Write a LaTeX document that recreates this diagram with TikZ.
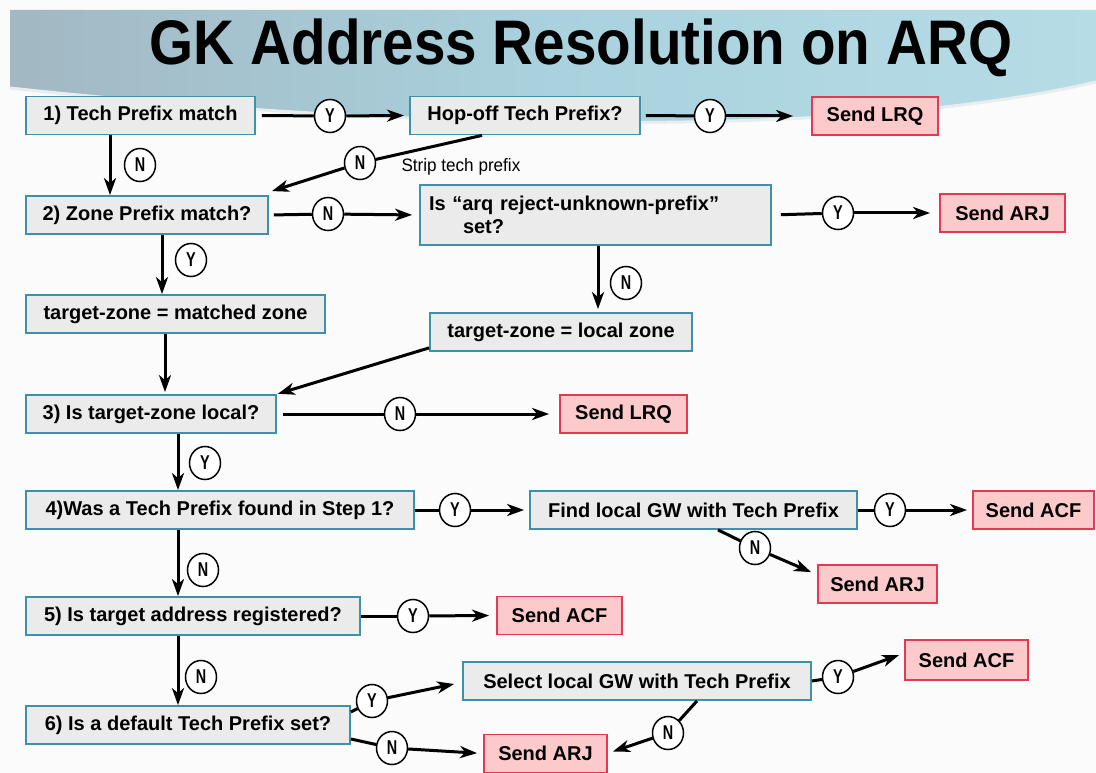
\documentclass[tikz,border=0pt]{standalone}
\usepackage{fontspec}
\setmainfont{Liberation Sans}
\usetikzlibrary{shapes.geometric,arrows.meta,calc}
\definecolor{procfill}{HTML}{EBEBEB}
\definecolor{procdraw}{HTML}{3F91AA}
\definecolor{sendfill}{HTML}{FCCACA}
\definecolor{senddraw}{HTML}{E23A52}
\definecolor{bannerL}{HTML}{A2B8C3}
\definecolor{bannerM}{HTML}{A9D2DE}
\definecolor{bannerR}{HTML}{B6DCE6}
\definecolor{bg}{HTML}{FBFBFB}
\begin{document}
\begin{tikzpicture}[x=1pt,y=-1pt,
 boxbase/.style={line width=1.8pt,minimum height=38pt,inner xsep=9pt,inner ysep=0pt,
   font=\fontsize{20}{23}\selectfont\bfseries},
 proc/.style={boxbase,draw=procdraw,fill=procfill},
 send/.style={boxbase,draw=senddraw,fill=sendfill},
 yn/.style={ellipse,draw,fill=white,line width=1.5pt,minimum width=31pt,minimum height=33pt,
   inner sep=0pt,font=\fontsize{20}{20}\selectfont\bfseries},
 ln/.style={line width=3pt},
 arr/.style={line width=3pt,-{Stealth[length=17pt,width=12pt,inset=5pt]}},
]
\fill[bg] (0,0) rectangle (1096,773);
\useasboundingbox (0,0) rectangle (1096,773);
% banner
\shade[left color=bannerL, right color=bannerR, middle color=bannerM]
  (10,10) -- (1096,10) -- (1096,82) .. controls (850,140) and (400,130) .. (10,88) -- cycle;
\draw[white!75!bannerL, line width=3pt]
  (1096,82) .. controls (850,140) and (400,130) .. (10,88);
\node[font=\fontsize{60}{60}\selectfont\bfseries] (title) at (581,48)
  {\scalebox{0.944}[1.05]{GK Address Resolution on ARQ}};

% boxes
\node[proc, minimum width=229pt] (b1) at (140.5,115.5) {1) Tech Prefix match};
\node[proc, minimum width=230pt] (b2) at (525,115.5) {Hop-off Tech Prefix?};
\node[send, minimum width=126pt] (s1) at (875,116) {Send LRQ};
\node[proc, minimum width=242pt] (b3) at (147,215) {2) Zone Prefix match?};
\node[proc, minimum height=60pt, text width=333pt, align=left] (b4) at (595.5,215)
  {Is “arq reject-unknown-prefix”\\\hspace*{1.7em}set?};
\node[send, minimum width=125pt] (s2) at (1002.5,213) {Send ARJ};
\node[proc, minimum width=299pt] (b5) at (175.5,314) {target-zone = matched zone};
\node[proc, minimum width=262pt] (b6) at (561,332) {target-zone = local zone};
\node[proc, minimum width=250pt] (b7) at (151,414) {3) Is target-zone local?};
\node[send, minimum width=127pt] (s3) at (623.5,414) {Send LRQ};
\node[proc, minimum width=388pt] (b8) at (220,510) {4)Was a Tech Prefix found in Step 1?};
\node[proc, minimum width=327pt] (b9) at (693.5,510) {Find local GW with Tech Prefix};
\node[send, minimum width=121pt] (s4) at (1033.5,510) {Send ACF};
\node[send, minimum width=119pt] (s5) at (877.5,584) {Send ARJ};
\node[proc, minimum width=334pt] (b10) at (193,616) {5) Is target address registered?};
\node[send, minimum width=125pt] (s6) at (559.5,615.5) {Send ACF};
\node[proc, minimum width=348pt] (b11) at (637,681) {Select local GW with Tech Prefix};
\node[send, minimum width=123pt, minimum height=40pt] (s7) at (966.5,660) {Send ACF};
\node[proc, minimum width=324pt] (b12) at (188,725) {6) Is a default Tech Prefix set?};
\node[send, minimum width=123pt] (s8) at (545.5,753.5) {Send ARJ};

% Y/N markers
\newcommand\yn[1]{\scalebox{0.72}[1]{#1}}
\node[yn] (y1) at (330,116) {\yn{Y}};
\node[yn] (y2) at (710,116) {\yn{Y}};
\node[yn] (n1) at (140,165) {\yn{N}};
\node[yn] (n2) at (360,163) {\yn{N}};
\node[anchor=west, font=\fontsize{18}{18}\selectfont] (strip) at (398,167) {\scalebox{0.95}[1]{Strip tech prefix}};
\node[yn] (n3) at (328,214) {\yn{N}};
\node[yn] (y3) at (838,213) {\yn{Y}};
\node[yn] (y4) at (191,260) {\yn{Y}};
\node[yn] (n4) at (626,283) {\yn{N}};
\node[yn] (n5) at (400,414) {\yn{N}};
\node[yn] (y5) at (205,463) {\yn{Y}};
\node[yn] (y6) at (455,510) {\yn{Y}};
\node[yn] (y7) at (890,510) {\yn{Y}};
\node[yn] (n6) at (755,548) {\yn{N}};
\node[yn] (n7) at (203,570) {\yn{N}};
\node[yn] (y8) at (413,616) {\yn{Y}};
\node[yn] (n8) at (201,677) {\yn{N}};
\node[yn] (y9) at (372,701) {\yn{Y}};
\node[yn] (n9) at (392,748) {\yn{N}};
\node[yn] (y10) at (838,677) {\yn{Y}};
\node[yn] (n10) at (668,733) {\yn{N}};

% connectors
\draw[ln, shorten <=6pt] (b1.east) -- (y1);
\draw[arr, shorten >=5pt] (y1) -- (b2.west);
\draw[ln, shorten <=5pt] (b2.east) -- (y2);
\draw[arr, shorten >=18pt] (y2) -- (s1.west);
\draw[arr] ([xshift=-30.5pt]b1.south) -- ([xshift=-30.5pt]b1.south |- b3.north);
\draw[ln] ([xshift=-43pt]b2.south) -- (n2);
\draw[arr] (n2) -- ([xshift=125pt,yshift=4pt]b3.north);
\draw[ln, shorten <=5pt] (b3.east) -- (n3);
\draw[arr, shorten >=7pt] (n3) -- (b4.west);
\draw[ln, shorten <=9pt] (b4.east) -- (y3);
\draw[arr, shorten >=9pt] (y3) -- (s2.west);
\draw[arr] ([xshift=15pt]b3.south) -- ([xshift=15pt]b3.south |- b5.north);
\draw[arr, shorten >=3pt] ([xshift=2.5pt]b4.south) -- ([xshift=2.5pt]b4.south |- b6.north);
\draw[arr, shorten >=2pt] ([xshift=-10.5pt]b5.south) -- ([xshift=-10.5pt]b5.south |- b7.north);
\draw[arr, shorten >=1pt] ([yshift=4pt]b6.south west) -- (b7.north east);
\draw[ln, shorten <=6pt] (b7.east) -- (n5);
\draw[arr, shorten >=10pt] (n5) -- (s3.west);
\draw[arr] ([xshift=27pt]b7.south) -- ([xshift=27pt]b7.south |- b8.north);
\draw[ln] (b8.east) -- (y6);
\draw[arr, shorten >=5pt] (y6) -- (b9.west);
\draw[ln] (b9.east) -- (y7);
\draw[arr, shorten >=5pt] (y7) -- (s4.west);
\draw[ln] ([xshift=24.5pt]b9.south) -- (n6);
\draw[arr] (n6) -- ([xshift=-6pt,yshift=-8pt]s5.north west);
\draw[arr] ([xshift=-42pt]b8.south) -- ([xshift=-42pt]b8.south |- b10.north);
\draw[ln] (b10.east) -- (y8);
\draw[arr, shorten >=7pt] (y8) -- (s6.west);
\draw[arr] ([xshift=-15pt]b10.south) -- ([xshift=-15pt]b10.south |- b12.north);
\draw[ln] ([yshift=13pt]b12.east) -- (y9);
\draw[arr] (y9) -- ([xshift=-8pt,yshift=-3pt]b11.west);
\draw[ln] ([yshift=-14pt]b12.east) -- (n9);
\draw[arr, shorten >=6pt] (n9) -- (s8.west);
\draw[ln] (b11.east) -- (y10);
\draw[arr] (y10) -- ([xshift=-5pt,yshift=5pt]s7.west);
\draw[ln] ([xshift=60pt]b11.south) -- (n10);
\draw[arr] (n10) -- ([xshift=5pt,yshift=2pt]s8.east);
\end{tikzpicture}
\end{document}
